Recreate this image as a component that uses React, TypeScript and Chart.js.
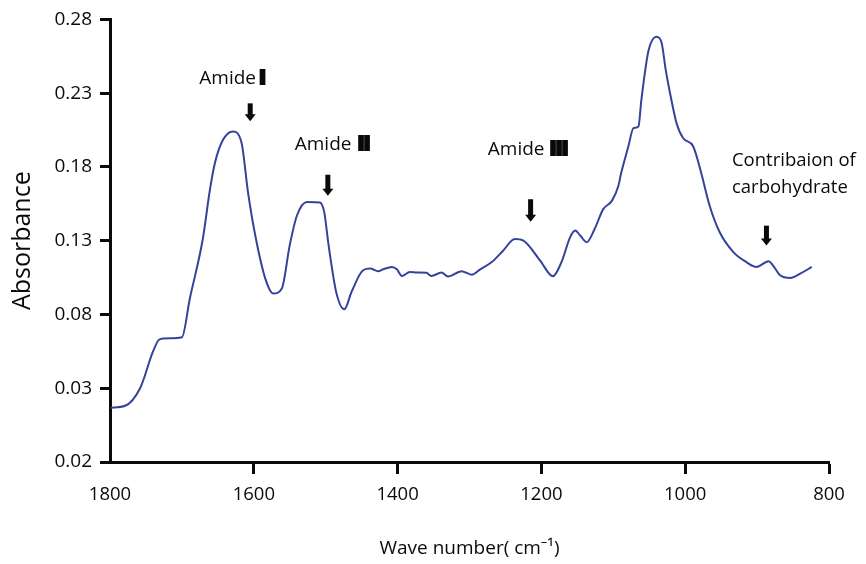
import React, { useEffect, useRef } from 'react';
import { Chart, registerables } from 'chart.js';

Chart.register(...registerables);

// Spectrum (wave number, cm-1) and absorbance
const wavenumbers = [
  1799, 1779, 1758, 1740, 1731, 1717, 1700, 1689, 1671, 1661,
  1654, 1643, 1629, 1617, 1608, 1598, 1584, 1573, 1561, 1550,
  1540, 1526, 1508, 1502, 1496, 1485, 1474, 1464, 1448, 1438,
  1427, 1420, 1408, 1401, 1394, 1383, 1373, 1360, 1353, 1339,
  1330, 1311, 1297, 1285, 1269, 1253, 1237, 1225, 1202, 1184,
  1172, 1160, 1153, 1146, 1137, 1126, 1114, 1102, 1093, 1089,
  1079, 1072, 1065, 1061, 1051, 1040, 1033, 1027, 1021, 1012,
  1003, 989, 979, 966, 952, 933, 915, 901, 884, 878,
  868, 854, 840, 824,
];
const absorbance = [
  0.0168, 0.0181, 0.0302, 0.0551, 0.0631, 0.0638, 0.0645, 0.0907, 0.131, 0.1646,
  0.1828, 0.1982, 0.2041, 0.1962, 0.1626, 0.1337, 0.1043, 0.0942, 0.0976, 0.127,
  0.1471, 0.1563, 0.1559, 0.1492, 0.127, 0.0943, 0.0835, 0.0954, 0.11, 0.1111,
  0.1093, 0.1106, 0.1122, 0.1106, 0.1061, 0.1088, 0.1084, 0.1082, 0.1061, 0.1084,
  0.1057, 0.1093, 0.107, 0.1106, 0.1155, 0.1234, 0.1312, 0.1301, 0.1167, 0.1059,
  0.1156, 0.1324, 0.1369, 0.1335, 0.129, 0.1379, 0.1514, 0.157, 0.1671, 0.176,
  0.194, 0.2063, 0.2074, 0.2253, 0.2589, 0.2683, 0.2645, 0.2455, 0.2298, 0.2096,
  0.1996, 0.194, 0.1783, 0.1537, 0.1357, 0.1223, 0.1155, 0.1122, 0.116, 0.1133,
  0.1066, 0.1048, 0.1077, 0.1122,
];

// Axis ticks
const xTickValues = [1800, 1600, 1400, 1200, 1000, 800];
const yTickValues = [-0.02, 0.03, 0.08, 0.13, 0.18, 0.23, 0.28];
const yTickLabels = ['0.02', '0.03', '0.08', '0.13', '0.18', '0.23', '0.28'];

// Band annotations
const bandPrefixes = ['Amide', 'Amide', 'Amide'];
const bandNumerals = ['I', 'II', 'III'];
const bandTextCenters = [1630, 1491, 1219];
const bandTextBaselines = [0.2362, 0.1915, 0.1881];
const carbLines = ['Contribaion of', 'carbohydrate'];
const carbTextLeft = 935;
const carbBaselines = [0.1809, 0.1626];
const arrowWavenumbers = [1605, 1497, 1215, 887];
const arrowTops = [0.2231, 0.1747, 0.1581, 0.1402];
const arrowTips = [0.211, 0.1605, 0.1429, 0.1268];

const INK = '#0a0a0a';
const FONT = '"Open Sans", "Noto Sans", sans-serif';

const annotationPlugin = {
  id: 'bandAnnotations',
  afterDraw(chart: any) {
    const { ctx } = chart;
    const xs = chart.scales.x;
    const ys = chart.scales.y;
    ctx.save();
    ctx.fillStyle = INK;
    ctx.strokeStyle = INK;
    ctx.textBaseline = 'alphabetic';
    ctx.textAlign = 'left';
    const gaps = [3, 6, 5];
    bandPrefixes.forEach((p, i) => {
      ctx.font = `19px ${FONT}`;
      const pw = ctx.measureText(p).width;
      ctx.font = `bold 19px "DejaVu Sans", sans-serif`;
      (ctx as any).letterSpacing = '-1px';
      const nw = ctx.measureText(bandNumerals[i]).width;
      const total = pw + gaps[i] + nw;
      const cx = xs.getPixelForValue(bandTextCenters[i]);
      const by = ys.getPixelForValue(bandTextBaselines[i]);
      const left = cx - total / 2;
      (ctx as any).letterSpacing = '0px';
      ctx.font = `19px ${FONT}`;
      ctx.fillText(p, left, by);
      ctx.font = `bold 19px "DejaVu Sans", sans-serif`;
      (ctx as any).letterSpacing = '-1px';
      ctx.lineWidth = 2.2;
      ctx.fillText(bandNumerals[i], left + pw + gaps[i], by);
      ctx.strokeText(bandNumerals[i], left + pw + gaps[i], by);
      (ctx as any).letterSpacing = '0px';
    });
    ctx.font = `18.5px ${FONT}`;
    carbLines.forEach((t, i) => {
      ctx.fillText(t, xs.getPixelForValue(carbTextLeft), ys.getPixelForValue(carbBaselines[i]));
    });
    arrowWavenumbers.forEach((w, i) => {
      const ax = xs.getPixelForValue(w);
      const top = ys.getPixelForValue(arrowTops[i]);
      const tip = ys.getPixelForValue(arrowTips[i]);
      const head = 7;
      ctx.fillRect(ax - 2.5, top, 5, tip - head - top + 1);
      ctx.beginPath();
      ctx.moveTo(ax - 5.5, tip - head);
      ctx.lineTo(ax + 5.5, tip - head);
      ctx.lineTo(ax, tip);
      ctx.closePath();
      ctx.fill();
    });
    ctx.restore();
  },
};

export default function App() {
  const canvasRef = useRef<HTMLCanvasElement | null>(null);

  useEffect(() => {
    const canvas = canvasRef.current;
    if (!canvas) return;
    const chart = new Chart(canvas, {
      type: 'line',
      data: {
        datasets: [
          {
            data: wavenumbers.map((w, i) => ({ x: w, y: absorbance[i] })),
            borderColor: '#34439a',
            borderWidth: 2,
            pointRadius: 0,
            fill: false,
            cubicInterpolationMode: 'monotone',
          },
        ],
      },
      options: {
        responsive: false,
        animation: false,
        layout: { padding: { left: 0, right: 37, top: 15, bottom: 0 } },
        plugins: {
          legend: { display: false },
          tooltip: { enabled: false },
        },
        scales: {
          x: {
            type: 'linear',
            reverse: true,
            min: 800,
            max: 1800,
            afterBuildTicks: (s: any) => {
              s.ticks = xTickValues.map((v) => ({ value: v }));
            },
            afterFit: (s: any) => {
              s.height = 102;
            },
            ticks: {
              callback: (v: any) => String(v),
              font: { family: FONT, size: 18.5 },
              color: INK,
              padding: 10,
              maxRotation: 0,
            },
            grid: {
              drawOnChartArea: false,
              tickLength: 12,
              tickWidth: 3,
              tickColor: (c: any) => (c.index === 0 ? 'rgba(0,0,0,0)' : INK),
            },
            border: { display: true, color: INK, width: 3 },
            title: {
              display: true,
              text: 'Wave number( cm⁻¹)',
              font: { family: FONT, size: 19 },
              color: INK,
              padding: { top: 0, bottom: 4 },
            },
          },
          y: {
            min: -0.02,
            max: 0.28,
            afterBuildTicks: (s: any) => {
              s.ticks = yTickValues.map((v) => ({ value: v }));
            },
            afterFit: (s: any) => {
              s.width = 110;
            },
            ticks: {
              callback: (_v: any, i: number) => yTickLabels[i],
              font: { family: FONT, size: 19 },
              color: INK,
              padding: 8,
            },
            grid: {
              drawOnChartArea: false,
              tickLength: 10,
              tickWidth: 3,
              tickColor: INK,
            },
            border: { display: true, color: INK, width: 3 },
            title: {
              display: true,
              text: 'Absorbance',
              font: { family: FONT, size: 25 },
              color: INK,
              padding: { top: 8, bottom: 0 },
            },
          },
        },
      },
      plugins: [annotationPlugin],
    } as any);
    return () => chart.destroy();
  }, []);

  return (
    <canvas
      ref={canvasRef}
      width={866}
      height={564}
      style={{ position: 'absolute', left: 0, top: 0, background: '#ffffff' }}
    />
  );
}
